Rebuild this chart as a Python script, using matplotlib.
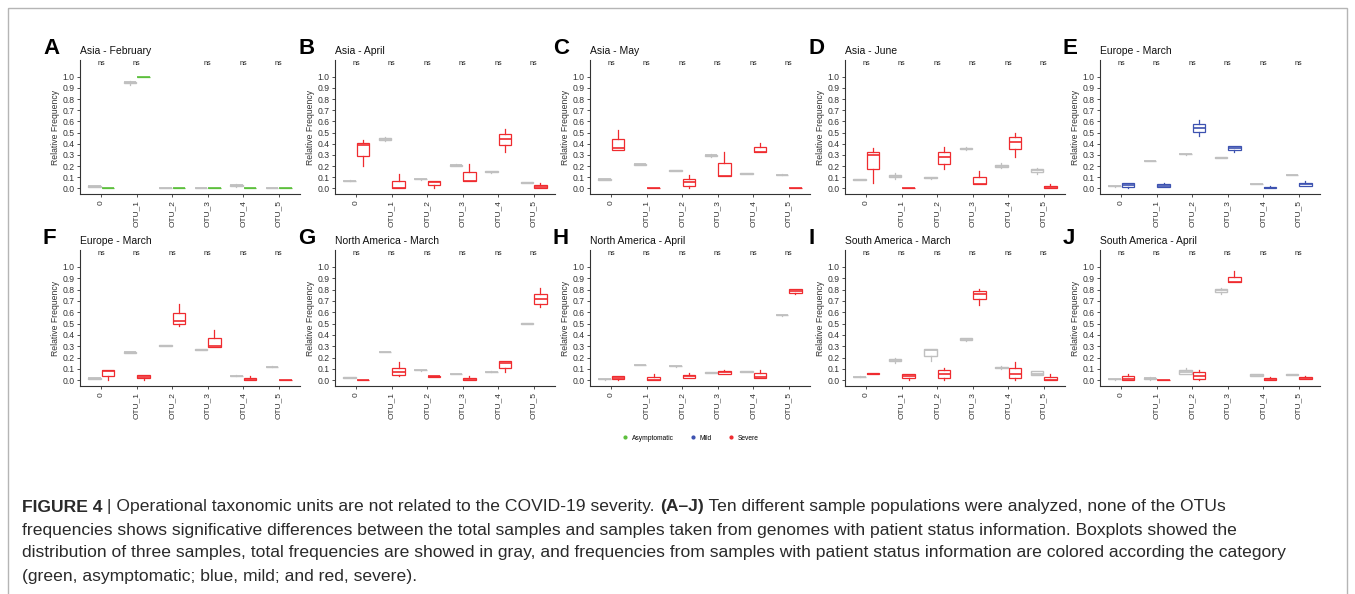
import numpy as np
import matplotlib
matplotlib.use('Agg')
import matplotlib.pyplot as plt
from matplotlib.lines import Line2D
from matplotlib.patches import Rectangle

plt.rcParams['font.family'] = ['Liberation Sans', 'DejaVu Sans']

W, H = 1355, 594

otus = ['0', 'OTU_1', 'OTU_2', 'OTU_3', 'OTU_4', 'OTU_5']

# each box: [whisker low, q1, median, q3, whisker high]
A_total = [[0.015, 0.017, 0.02, 0.023, 0.025], [0.93, 0.94, 0.95, 0.955, 0.965], [0, 0, 0.001, 0.003, 0.004],
           [0, 0, 0.001, 0.003, 0.004], [0.01, 0.02, 0.03, 0.035, 0.04], [0, 0, 0.001, 0.003, 0.004]]
A_status = [[0, 0, 0, 0.002, 0.002], [0.997, 0.998, 1.0, 1.0, 1.0], [0, 0, 0, 0.002, 0.002],
            [0, 0, 0, 0.002, 0.002], [0, 0, 0, 0.002, 0.002], [0, 0, 0, 0.002, 0.002]]

B_total = [[0.064, 0.066, 0.068, 0.07, 0.072], [0.425, 0.435, 0.445, 0.455, 0.46], [0.078, 0.08, 0.083, 0.086, 0.088],
           [0.2, 0.205, 0.21, 0.214, 0.218], [0.14, 0.145, 0.15, 0.155, 0.16], [0.045, 0.048, 0.05, 0.053, 0.056]]
B_status = [[0.2, 0.29, 0.385, 0.41, 0.435], [0, 0, 0, 0.068, 0.13], [0, 0.03, 0.06, 0.068, 0.068],
            [0.065, 0.065, 0.065, 0.147, 0.22], [0.33, 0.385, 0.44, 0.485, 0.53], [0, 0, 0.01, 0.03, 0.05]]

C_total = [[0.077, 0.079, 0.082, 0.085, 0.087], [0.21, 0.213, 0.216, 0.219, 0.222], [0.152, 0.156, 0.16, 0.165, 0.168],
           [0.28, 0.288, 0.295, 0.3, 0.305], [0.125, 0.128, 0.131, 0.134, 0.136], [0.117, 0.119, 0.121, 0.123, 0.125]]
C_status = [[0.34, 0.34, 0.36, 0.44, 0.52], [0, 0, 0, 0.003, 0.005], [0, 0.025, 0.055, 0.08, 0.12],
            [0.11, 0.11, 0.115, 0.225, 0.33], [0.325, 0.325, 0.33, 0.375, 0.405], [0, 0, 0, 0.003, 0.005]]

D_total = [[0.072, 0.074, 0.077, 0.08, 0.082], [0.08, 0.1, 0.11, 0.12, 0.135], [0.085, 0.09, 0.095, 0.1, 0.105],
           [0.345, 0.35, 0.355, 0.365, 0.37], [0.185, 0.19, 0.2, 0.21, 0.23], [0.125, 0.15, 0.165, 0.175, 0.18]]
D_status = [[0.05, 0.17, 0.295, 0.325, 0.36], [0, 0, 0, 0.003, 0.005], [0.17, 0.22, 0.28, 0.325, 0.37],
            [0.04, 0.04, 0.04, 0.1, 0.155], [0.28, 0.35, 0.42, 0.46, 0.495], [0, 0, 0.01, 0.025, 0.04]]

E_total = [[0.017, 0.018, 0.02, 0.022, 0.023], [0.242, 0.244, 0.246, 0.248, 0.25], [0.302, 0.304, 0.306, 0.308, 0.31],
           [0.27, 0.272, 0.275, 0.278, 0.28], [0.037, 0.038, 0.04, 0.042, 0.043], [0.117, 0.118, 0.12, 0.122, 0.123]]
E_status = [[0, 0.015, 0.03, 0.045, 0.045], [0.015, 0.015, 0.025, 0.04, 0.05], [0.47, 0.505, 0.545, 0.575, 0.61],
            [0.325, 0.345, 0.365, 0.38, 0.38], [0, 0, 0.005, 0.01, 0.025], [0.025, 0.025, 0.04, 0.05, 0.065]]

F_total = [[0.015, 0.016, 0.018, 0.02, 0.021], [0.242, 0.244, 0.246, 0.248, 0.25], [0.302, 0.304, 0.306, 0.308, 0.31],
           [0.265, 0.268, 0.27, 0.275, 0.278], [0.037, 0.038, 0.04, 0.042, 0.043], [0.117, 0.118, 0.12, 0.122, 0.123]]
F_status = [[0, 0.04, 0.085, 0.09, 0.09], [0, 0.018, 0.033, 0.047, 0.047], [0.48, 0.495, 0.52, 0.595, 0.67],
            [0.295, 0.295, 0.305, 0.37, 0.44], [0, 0, 0, 0.018, 0.04], [0, 0, 0, 0.003, 0.005]]

G_total = [[0.022, 0.023, 0.025, 0.027, 0.028], [0.246, 0.248, 0.25, 0.252, 0.254], [0.085, 0.087, 0.09, 0.093, 0.095],
           [0.052, 0.053, 0.055, 0.057, 0.058], [0.072, 0.073, 0.075, 0.077, 0.078], [0.495, 0.497, 0.5, 0.503, 0.505]]
G_status = [[0, 0, 0, 0.003, 0.005], [0.035, 0.05, 0.075, 0.11, 0.16], [0.032, 0.033, 0.035, 0.037, 0.038],
            [0, 0, 0.005, 0.02, 0.035], [0.075, 0.11, 0.155, 0.17, 0.175], [0.645, 0.675, 0.72, 0.765, 0.815]]

H_total = [[0.007, 0.008, 0.01, 0.012, 0.013], [0.131, 0.133, 0.135, 0.137, 0.139], [0.121, 0.123, 0.125, 0.127, 0.129],
           [0.064, 0.066, 0.068, 0.07, 0.072], [0.073, 0.075, 0.077, 0.079, 0.081], [0.571, 0.573, 0.575, 0.577, 0.579]]
H_status = [[0, 0.01, 0.02, 0.035, 0.035], [0, 0, 0.003, 0.03, 0.06], [0.025, 0.025, 0.04, 0.05, 0.065],
            [0.06, 0.06, 0.07, 0.08, 0.09], [0.025, 0.025, 0.03, 0.065, 0.09], [0.76, 0.775, 0.79, 0.805, 0.81]]

I_total = [[0.026, 0.028, 0.03, 0.032, 0.034], [0.155, 0.17, 0.18, 0.19, 0.2], [0.17, 0.215, 0.27, 0.275, 0.275],
           [0.35, 0.355, 0.36, 0.37, 0.372], [0.1, 0.105, 0.11, 0.12, 0.13], [0.045, 0.05, 0.06, 0.08, 0.085]]
I_status = [[0.056, 0.058, 0.06, 0.062, 0.064], [0, 0.025, 0.04, 0.06, 0.06], [0, 0.025, 0.06, 0.09, 0.11],
            [0.665, 0.715, 0.765, 0.79, 0.81], [0, 0.025, 0.06, 0.11, 0.165], [0, 0, 0, 0.03, 0.055]]

J_total = [[0.007, 0.008, 0.01, 0.012, 0.013], [0.005, 0.01, 0.017, 0.025, 0.03], [0.055, 0.06, 0.075, 0.09, 0.11],
           [0.765, 0.78, 0.8, 0.81, 0.815], [0.035, 0.04, 0.047, 0.055, 0.06], [0.046, 0.048, 0.05, 0.052, 0.054]]
J_status = [[0, 0, 0.012, 0.035, 0.06], [0, 0, 0, 0.003, 0.005], [0, 0.015, 0.035, 0.07, 0.095],
            [0.865, 0.865, 0.87, 0.915, 0.965], [0, 0, 0, 0.018, 0.03], [0.01, 0.01, 0.02, 0.032, 0.035]]

letters = ['A', 'B', 'C', 'D', 'E', 'F', 'G', 'H', 'I', 'J']
titles = ['Asia - February', 'Asia - April', 'Asia - May', 'Asia - June', 'Europe - March',
          'Europe - March', 'North America - March', 'North America - April',
          'South America - March', 'South America - April']
totals = [A_total, B_total, C_total, D_total, E_total, F_total, G_total, H_total, I_total, J_total]
statuses = [A_status, B_status, C_status, D_status, E_status, F_status, G_status, H_status, I_status, J_status]
status_kind = ['Asymptomatic', 'Severe', 'Severe', 'Severe', 'Mild',
               'Severe', 'Severe', 'Severe', 'Severe', 'Severe']
ns_labels = [['ns', 'ns', '', 'ns', 'ns', 'ns']] + [['ns'] * 6] * 9

colors = {'Asymptomatic': '#5cbf3c', 'Mild': '#3d52b0', 'Severe': '#ef2b2f'}
gray = '#c0c0c0'
axcol = '#333333'


def to_stats(rows):
    return [dict(whislo=r[0], q1=r[1], med=r[2], q3=r[3], whishi=r[4], fliers=[]) for r in rows]


fig = plt.figure(figsize=(W / 100, H / 100), dpi=100)

# frame around the figure
bg = fig.add_axes([0, 0, 1, 1])
bg.axis('off')
bg.set_xlim(0, W)
bg.set_ylim(H, 0)
bg.add_patch(Rectangle((8, 8), 1339, 600, fill=False, ec='#b5b5b5', lw=1))

lefts = [80, 335, 590, 845, 1100]
rows_px = [(60, 194), (250, 386)]
pos = np.arange(1, 7)

for k in range(10):
    r, c = divmod(k, 5)
    top, bot = rows_px[r]
    ax = fig.add_axes([lefts[c] / W, 1 - bot / H, 220 / W, (bot - top) / H])
    col = colors[status_kind[k]]
    ax.bxp(to_stats(totals[k]), positions=pos - 0.19, widths=0.35, showcaps=False,
           patch_artist=True, manage_ticks=False,
           boxprops=dict(facecolor='white', edgecolor=gray, lw=1.0),
           medianprops=dict(color=gray, lw=1.3),
           whiskerprops=dict(color=gray, lw=0.9))
    ax.bxp(to_stats(statuses[k]), positions=pos + 0.19, widths=0.35, showcaps=False,
           patch_artist=True, manage_ticks=False,
           boxprops=dict(facecolor='white', edgecolor=col, lw=0.9),
           medianprops=dict(color=col, lw=1.2),
           whiskerprops=dict(color=col, lw=0.9))
    for i, s in enumerate(ns_labels[k]):
        ax.text(pos[i], 1.12, s, ha='center', va='center', fontsize=5.2, color='#222222')
    ax.set_xlim(0.4, 6.6)
    ax.set_ylim(-0.05, 1.15)
    ax.set_yticks(np.arange(0, 1.01, 0.1))
    ax.set_yticklabels(['%.1f' % v for v in np.arange(0, 1.01, 0.1)])
    ax.set_xticks(pos)
    ax.set_xticklabels(otus, rotation=90)
    ax.tick_params(axis='y', labelsize=6.2, length=2.5, width=0.6, color=axcol, labelcolor='#333333', pad=1.5)
    ax.tick_params(axis='x', labelsize=6, length=2.5, width=0.6, color=axcol, labelcolor='#333333', pad=2)
    for sp in ['top', 'right']:
        ax.spines[sp].set_visible(False)
    for sp in ['left', 'bottom']:
        ax.spines[sp].set_color(axcol)
        ax.spines[sp].set_linewidth(0.8)
    ax.set_ylabel('Relative Frequency', fontsize=6.2, color='#333333', labelpad=2)
    ax.set_title(titles[k], loc='left', fontsize=7.5, pad=4, color='#111111')
    fig.text((lefts[c] - 37) / W, 1 - (top - 6) / H, letters[k], fontsize=16,
             fontweight='bold', ha='left', va='baseline', color='black')

handles = [Line2D([], [], ls='', marker='o', ms=2, color=colors[n]) for n in ['Asymptomatic', 'Mild', 'Severe']]
fig.legend(handles, ['Asymptomatic', 'Mild', 'Severe'], loc='center', bbox_to_anchor=(690 / W, 1 - 438 / H),
           ncol=3, frameon=False, fontsize=4.8, handlelength=1, handletextpad=0.5, columnspacing=2.4)

# caption
caption = [
    [('FIGURE 4', True), (' | Operational taxonomic units are not related to the COVID-19 severity. ', False),
     ('(A\u2013J)', True), (' Ten different sample populations were analyzed, none of the OTUs', False)],
    [('frequencies shows significative differences between the total samples and samples taken from genomes '
      'with patient status information. Boxplots showed the', False)],
    [('distribution of three samples, total frequencies are showed in gray, and frequencies from samples with '
      'patient status information are colored according the category', False)],
    [('(green, asymptomatic; blue, mild; and red, severe).', False)],
]
cap_y = [507, 530, 553, 576]
for line, y in zip(caption, cap_y):
    prev = None
    for txt, bold in line:
        w = 'bold' if bold else 'normal'
        if prev is None:
            prev = bg.text(22, y, txt, fontsize=12.6, fontweight=w, color='#2a2a2a', va='center', ha='left')
        else:
            prev = bg.annotate(txt, xy=(1, 0), xycoords=prev, fontsize=12.6, fontweight=w,
                               color='#2a2a2a', va='bottom', ha='left')

fig.savefig('out.png', dpi=100)
